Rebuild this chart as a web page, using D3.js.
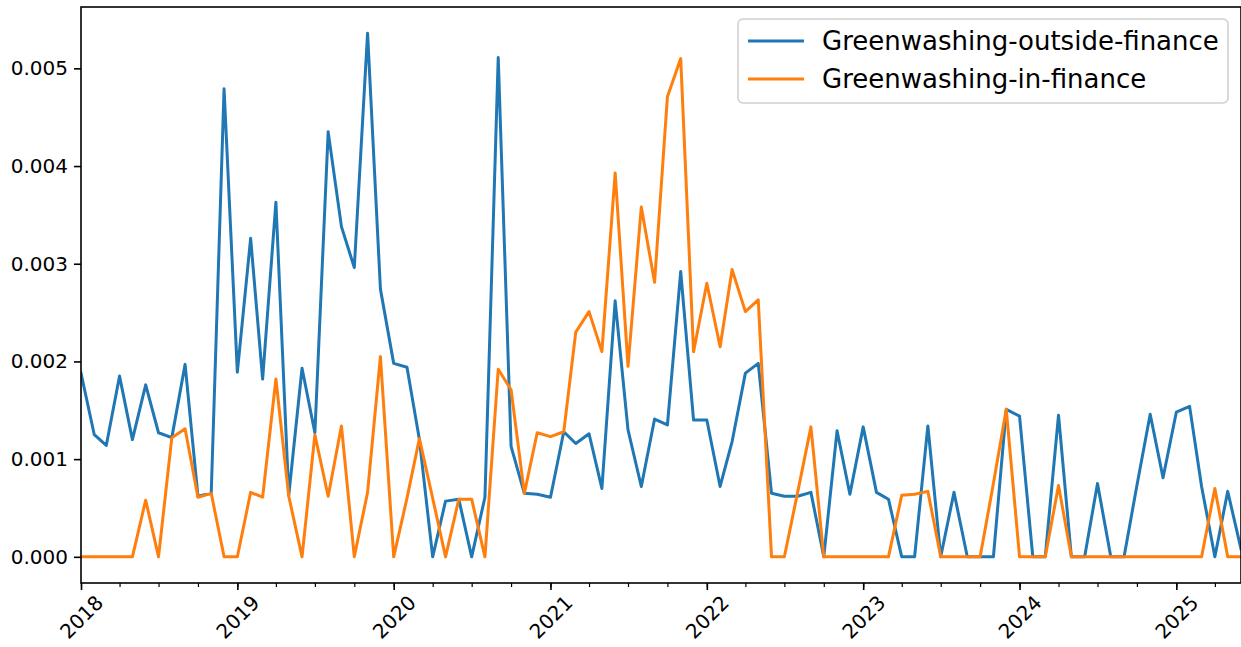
<!DOCTYPE html>
<html>
<head>
<meta charset="utf-8">
<script src="https://cdn.jsdelivr.net/npm/d3@7"></script>
<style>
  body { margin: 0; background: #fff; }
  svg text { font-family: "DejaVu Sans", sans-serif; fill: #000; }
</style>
</head>
<body>
<div id="chart"></div>
<script>
// Chart data: monthly shares, Jan 2018 .. Jun 2025
const startMonth = "2018-01-01";
const seriesNames = ["Greenwashing-outside-finance", "Greenwashing-in-finance"];
const seriesColors = ["#1f77b4", "#ff7f0e"];

const outsideFinance = [
  0.00188, 0.00125, 0.00114, 0.00185, 0.00120, 0.00176, 0.00127, 0.00122, 0.00197, 0.00062, 0.00065, 0.00479,
  0.00189, 0.00326, 0.00182, 0.00363, 0.00063, 0.00193, 0.00127, 0.00435, 0.00338, 0.00296, 0.00536, 0.00274,
  0.00198, 0.00194, 0.00120, 0.00000, 0.00057, 0.00059, 0.00000, 0.00061, 0.00511, 0.00113, 0.00065, 0.00064,
  0.00061, 0.00128, 0.00116, 0.00126, 0.00070, 0.00262, 0.00130, 0.00072, 0.00141, 0.00135, 0.00292, 0.00140,
  0.00140, 0.00072, 0.00118, 0.00188, 0.00198, 0.00065, 0.00062, 0.00062, 0.00066, 0.00000, 0.00129, 0.00064,
  0.00133, 0.00066, 0.00059, 0.00000, 0.00000, 0.00134, 0.00000, 0.00066, 0.00000, 0.00000, 0.00000, 0.00151,
  0.00144, 0.00000, 0.00000, 0.00145, 0.00000, 0.00000, 0.00075, 0.00000, 0.00000, 0.00073, 0.00146, 0.00081,
  0.00148, 0.00154, 0.00072, 0.00000, 0.00067, 0.00008
];

const inFinance = [
  0.00000, 0.00000, 0.00000, 0.00000, 0.00000, 0.00058, 0.00000, 0.00122, 0.00131, 0.00061, 0.00065, 0.00000,
  0.00000, 0.00066, 0.00061, 0.00182, 0.00062, 0.00000, 0.00125, 0.00062, 0.00134, 0.00000, 0.00066, 0.00205,
  0.00000, 0.00060, 0.00121, 0.00060, 0.00000, 0.00059, 0.00059, 0.00000, 0.00192, 0.00171, 0.00065, 0.00127,
  0.00123, 0.00128, 0.00230, 0.00251, 0.00210, 0.00393, 0.00195, 0.00358, 0.00281, 0.00471, 0.00510, 0.00210,
  0.00280, 0.00215, 0.00294, 0.00251, 0.00263, 0.00000, 0.00000, 0.00066, 0.00133, 0.00000, 0.00000, 0.00000,
  0.00000, 0.00000, 0.00000, 0.00063, 0.00064, 0.00067, 0.00000, 0.00000, 0.00000, 0.00000, 0.00075, 0.00151,
  0.00000, 0.00000, 0.00000, 0.00073, 0.00000, 0.00000, 0.00000, 0.00000, 0.00000, 0.00000, 0.00000, 0.00000,
  0.00000, 0.00000, 0.00000, 0.00070, 0.00000, 0.00000
];

const yTickValues = [0, 0.001, 0.002, 0.003, 0.004, 0.005];

// Layout
const width = 1241, height = 647;
const margin = { left: 81, right: 0, top: 7, bottom: 64 };

const months = outsideFinance.map((d, i) => d3.timeMonth.offset(new Date(startMonth + "T00:00:00"), i));

const x = d3.scaleTime()
    .domain([months[0], months[months.length - 1]])
    .range([margin.left, width - margin.right]);

const yMax = d3.max([...outsideFinance, ...inFinance]);
const pad = yMax * 0.05;
const y = d3.scaleLinear()
    .domain([-pad, yMax + pad])
    .range([height - margin.bottom, margin.top]);

const svg = d3.select("#chart").append("svg")
    .attr("width", width)
    .attr("height", height);

svg.append("defs").append("clipPath").attr("id", "plot-clip")
  .append("rect")
    .attr("x", margin.left).attr("y", margin.top)
    .attr("width", width - margin.left - margin.right)
    .attr("height", height - margin.top - margin.bottom);

// Lines
const line = d3.line()
    .x((d, i) => x(months[i]))
    .y(d => y(d));

[outsideFinance, inFinance].forEach((values, k) => {
  svg.append("path")
      .datum(values)
      .attr("clip-path", "url(#plot-clip)")
      .attr("fill", "none")
      .attr("stroke", seriesColors[k])
      .attr("stroke-width", 3)
      .attr("stroke-linejoin", "round")
      .attr("stroke-linecap", "square")
      .attr("d", line);
});

// Frame
svg.append("rect")
    .attr("x", margin.left).attr("y", margin.top)
    .attr("width", width - margin.left - margin.right)
    .attr("height", height - margin.top - margin.bottom)
    .attr("fill", "none")
    .attr("stroke", "#000")
    .attr("stroke-width", 1.6);

// Y axis
const yAxis = svg.append("g")
    .attr("transform", `translate(${margin.left},0)`)
    .call(d3.axisLeft(y).tickValues(yTickValues).tickFormat(d3.format(".3f")).tickSize(7).tickPadding(6));
yAxis.select(".domain").remove();
yAxis.selectAll("line").attr("stroke-width", 1.6);
yAxis.selectAll("text").style("font-size", "20px").style("font-family", "DejaVu Sans");

// X axis: years major, quarters minor
const xBase = height - margin.bottom;
const xMinor = svg.append("g")
    .attr("transform", `translate(0,${xBase})`)
    .call(d3.axisBottom(x).ticks(d3.timeMonth.every(3)).tickSize(4).tickFormat(""));
xMinor.select(".domain").remove();
xMinor.selectAll("line").attr("stroke-width", 1.2);

const xMajor = svg.append("g")
    .attr("transform", `translate(0,${xBase})`)
    .call(d3.axisBottom(x).ticks(d3.timeYear.every(1)).tickSize(7).tickFormat(d3.timeFormat("%Y")));
xMajor.select(".domain").remove();
xMajor.selectAll("line").attr("stroke-width", 1.6);
xMajor.selectAll("text")
    .style("font-size", "20px")
    .style("font-family", "DejaVu Sans")
    .attr("text-anchor", "middle")
    .attr("dominant-baseline", "central")
    .attr("y", 0)
    .attr("dy", 0)
    .attr("transform", "translate(0,34) rotate(-45)");

// Legend
const legend = svg.append("g");
legend.append("rect")
    .attr("x", 738).attr("y", 19)
    .attr("width", 490).attr("height", 84)
    .attr("rx", 5)
    .attr("fill", "#fff")
    .attr("fill-opacity", 0.8)
    .attr("stroke", "#d0d0d0")
    .attr("stroke-width", 1.6);

seriesNames.forEach((name, k) => {
  const cy = 41 + k * 38;
  legend.append("line")
      .attr("x1", 748).attr("x2", 804)
      .attr("y1", cy).attr("y2", cy)
      .attr("stroke", seriesColors[k])
      .attr("stroke-width", 3);
  legend.append("text")
      .attr("x", 822).attr("y", cy)
      .attr("dominant-baseline", "central")
      .style("font-size", "26px")
      .text(name);
});
</script>
</body>
</html>
